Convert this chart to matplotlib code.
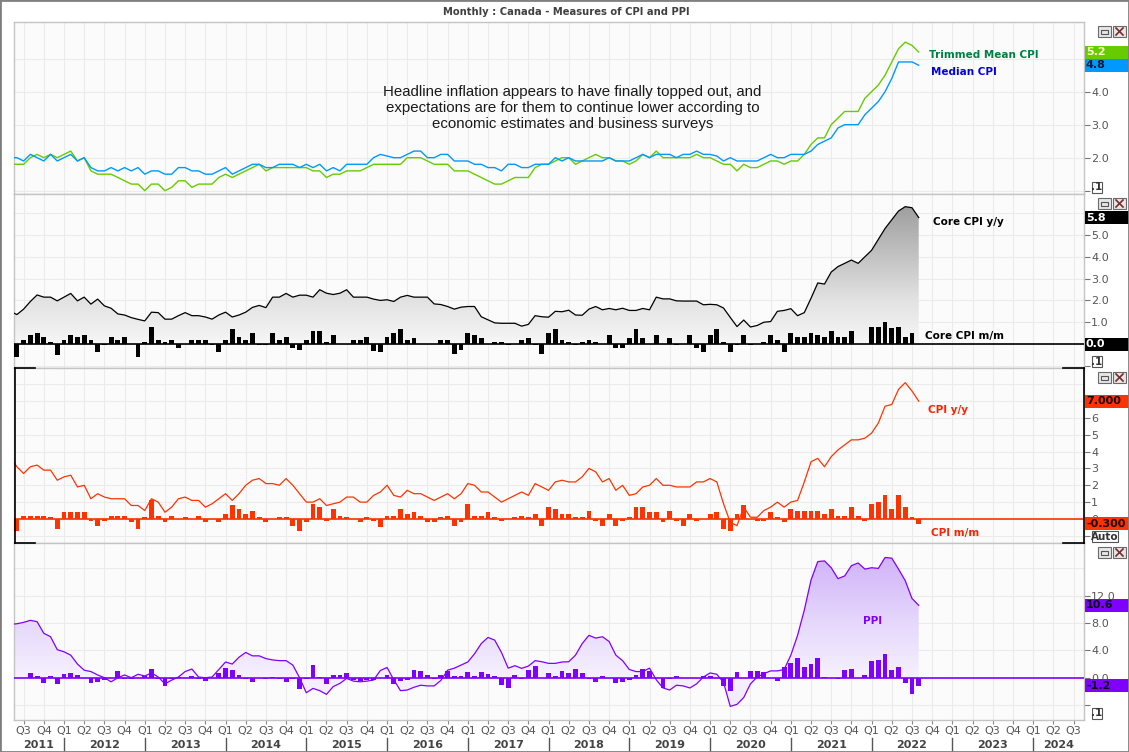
"""Canada - measures of CPI and PPI, four stacked panels"""
import numpy as np
import matplotlib
matplotlib.use("Agg")
import matplotlib.pyplot as plt
import matplotlib.transforms as mtransforms
from matplotlib.colors import LinearSegmentedColormap
from matplotlib.patches import Rectangle
from matplotlib.lines import Line2D

# month index: 0 = Jan 2012; data runs May 2011 .. Aug 2022
months = np.arange(-8, 128)

trimmed_mean = [
    1.8, 1.8, 1.8, 2.0, 2.1, 2.0, 2.1, 2.0,
    2.1, 2.2, 1.9, 2.0, 1.6, 1.5, 1.5, 1.5, 1.4, 1.3, 1.2, 1.2,
    1.0, 1.2, 1.2, 1.0, 1.1, 1.3, 1.3, 1.1, 1.2, 1.2, 1.2, 1.4,
    1.5, 1.4, 1.5, 1.6, 1.7, 1.8, 1.6, 1.7, 1.7, 1.7, 1.7, 1.7,
    1.7, 1.6, 1.6, 1.4, 1.5, 1.5, 1.6, 1.6, 1.6, 1.7, 1.8, 1.8,
    1.8, 1.8, 1.8, 2.0, 2.0, 2.0, 1.9, 1.8, 1.8, 1.8, 1.6, 1.6,
    1.6, 1.5, 1.4, 1.3, 1.2, 1.2, 1.3, 1.4, 1.4, 1.4, 1.7, 1.8,
    1.8, 1.9, 2.0, 2.0, 1.8, 1.9, 2.0, 2.1, 2.0, 2.0, 1.9, 1.9,
    1.8, 1.9, 2.1, 2.0, 2.2, 2.0, 2.0, 2.0, 2.0, 2.0, 2.1, 2.0,
    2.0, 1.9, 1.8, 1.8, 1.6, 1.8, 1.7, 1.7, 1.8, 1.9, 1.9, 1.8,
    1.9, 1.9, 2.1, 2.4, 2.6, 2.6, 3.0, 3.2, 3.4, 3.4, 3.4, 3.8,
    4.0, 4.2, 4.5, 4.9, 5.3, 5.5, 5.4, 5.2,
]
median_cpi = [
    2.0, 2.0, 1.9, 2.1, 2.0, 1.9, 2.1, 1.9,
    2.0, 2.1, 1.9, 2.0, 1.7, 1.6, 1.6, 1.7, 1.6, 1.7, 1.6, 1.7,
    1.5, 1.6, 1.6, 1.5, 1.5, 1.7, 1.7, 1.6, 1.6, 1.5, 1.5, 1.6,
    1.7, 1.5, 1.6, 1.7, 1.8, 1.8, 1.7, 1.7, 1.8, 1.8, 1.8, 1.7,
    1.8, 1.7, 1.8, 1.6, 1.7, 1.6, 1.8, 1.8, 1.8, 1.8, 2.0, 2.1,
    2.05, 2.0, 2.0, 2.1, 2.2, 2.2, 2.0, 2.0, 2.1, 2.1, 1.9, 1.9,
    1.9, 1.8, 1.8, 1.7, 1.7, 1.6, 1.8, 1.8, 1.7, 1.7, 1.8, 1.8,
    1.8, 2.0, 1.9, 2.0, 1.9, 1.9, 1.9, 1.9, 1.9, 2.0, 1.9, 1.9,
    1.9, 2.0, 2.1, 2.0, 2.1, 2.1, 2.1, 2.0, 2.1, 2.1, 2.2, 2.1,
    2.1, 2.05, 1.9, 2.0, 1.9, 1.9, 1.9, 1.9, 2.0, 2.1, 2.0, 2.0,
    2.1, 2.1, 2.1, 2.2, 2.4, 2.5, 2.6, 2.9, 3.0, 3.0, 3.0, 3.3,
    3.5, 3.7, 4.0, 4.4, 4.9, 4.9, 4.9, 4.8,
]
core_yy = [
    1.5, 1.35, 1.6, 1.95, 2.25, 2.15, 2.15, 1.98,
    2.15, 2.32, 1.98, 2.15, 1.83, 2.06, 1.75, 1.64, 1.38, 1.33, 1.21, 1.13,
    1.06, 1.46, 1.44, 1.14, 1.14, 1.30, 1.44, 1.30, 1.30, 1.24, 1.14, 1.33,
    1.46, 1.24, 1.33, 1.46, 1.68, 1.77, 1.67, 2.15, 2.15, 2.32, 2.15, 2.24,
    2.24, 2.15, 2.49, 2.33, 2.27, 2.33, 2.49, 2.15, 2.15, 2.15, 2.06, 2.0,
    2.03, 1.95, 2.15, 2.23, 2.15, 2.15, 2.15, 1.84, 1.81, 1.72, 1.6, 1.69,
    1.72, 1.72, 1.25, 1.11, 0.97, 0.95, 0.95, 0.95, 0.82, 0.9, 1.3, 1.25,
    1.23, 1.5, 1.48, 1.55, 1.33, 1.32, 1.6, 1.72, 1.57, 1.63, 1.57, 1.64,
    1.54, 1.54, 1.63, 1.57, 2.15, 2.07, 2.07, 1.98, 1.97, 1.97, 1.97, 1.8,
    1.82, 1.8, 1.65, 1.22, 0.8, 1.1, 0.78, 0.85, 1.0, 1.03, 1.5, 1.54,
    1.62, 1.3, 1.44, 2.1, 2.8, 2.75, 3.3, 3.55, 3.7, 3.85, 3.7, 4.0,
    4.3, 4.8, 5.3, 5.7, 6.1, 6.3, 6.25, 5.8,
]
core_mm = [
    0.3, -0.61, 0.2, 0.43, 0.52, 0.31, 0.11, -0.49,
    0.2, 0.43, 0.31, 0.43, 0.2, -0.38, -0.06, 0.31, 0.2, 0.31, 0.0, -0.61,
    0.11, 0.8, 0.2, 0.11, 0.2, -0.2, 0.0, 0.2, 0.2, 0.2, -0.06, -0.38,
    0.2, 0.7, 0.31, 0.2, 0.52, -0.06, -0.06, 0.52, 0.2, 0.31, -0.2, -0.28,
    0.2, 0.61, 0.61, 0.11, 0.43, 0.0, 0.0, 0.2, 0.2, 0.31, -0.31, -0.38,
    0.3, 0.5, 0.7, 0.2, 0.29, 0.0, 0.0, 0.0, 0.2, 0.2, -0.46, -0.28,
    0.5, 0.41, 0.29, 0.0, 0.1, 0.1, -0.05, 0.0, 0.2, 0.29, -0.05, -0.46,
    0.5, 0.7, 0.2, 0.1, -0.05, 0.1, 0.2, 0.1, 0.0, 0.41, -0.2, -0.2,
    0.29, 0.7, 0.29, 0.0, 0.41, 0.0, 0.29, -0.05, 0.0, 0.41, -0.2, -0.38,
    0.42, 0.69, 0.11, -0.38, -0.05, 0.43, -0.05, 0.0, 0.11, 0.43, 0.2, -0.38,
    0.51, 0.31, 0.31, 0.51, 0.43, 0.31, 0.61, 0.31, 0.31, 0.61, 0.0, 0.0,
    0.8, 0.8, 1.03, 0.72, 0.8, 0.31, 0.51, 0.0,
]
cpi_yy = [
    3.7, 3.1, 2.7, 3.1, 3.2, 2.9, 2.9, 2.3,
    2.5, 2.6, 1.9, 2.0, 1.2, 1.5, 1.3, 1.2, 1.2, 1.2, 0.8, 0.8,
    0.5, 1.2, 1.0, 0.4, 0.7, 1.2, 1.3, 1.1, 1.1, 0.7, 0.9, 1.2,
    1.5, 1.1, 1.5, 2.0, 2.3, 2.4, 2.1, 2.1, 2.0, 2.4, 2.0, 1.5,
    1.0, 1.0, 1.2, 0.8, 0.9, 1.0, 1.3, 1.3, 1.0, 1.0, 1.4, 1.6,
    2.0, 1.4, 1.3, 1.7, 1.5, 1.5, 1.3, 1.1, 1.3, 1.5, 1.2, 1.5,
    2.1, 2.0, 1.6, 1.6, 1.3, 1.0, 1.2, 1.4, 1.6, 1.4, 2.1, 1.9,
    1.7, 2.2, 2.3, 2.2, 2.2, 2.5, 3.0, 2.8, 2.2, 2.4, 1.7, 2.0,
    1.4, 1.5, 1.9, 2.0, 2.4, 2.0, 2.0, 1.9, 1.9, 1.9, 2.2, 2.2,
    2.4, 2.2, 0.9, -0.2, -0.4, 0.7, 0.1, 0.1, 0.5, 0.7, 1.0, 0.7,
    1.0, 1.1, 2.2, 3.4, 3.6, 3.1, 3.7, 4.1, 4.4, 4.7, 4.7, 4.8,
    5.1, 5.7, 6.7, 6.8, 7.7, 8.1, 7.6, 7.0,
]
cpi_mm = [
    0.2, -0.7, 0.2, 0.2, 0.2, 0.2, 0.1, -0.6,
    0.4, 0.4, 0.4, 0.4, -0.1, -0.4, -0.1, 0.2, 0.2, 0.2, -0.2, -0.6,
    0.1, 1.1, 0.2, -0.2, 0.2, 0.0, 0.1, 0.0, 0.2, -0.2, 0.0, -0.2,
    0.3, 0.8, 0.6, 0.3, 0.5, 0.1, -0.2, 0.0, 0.1, 0.1, -0.4, -0.7,
    -0.2, 0.9, 0.7, -0.1, 0.6, 0.2, 0.1, 0.0, -0.2, 0.1, -0.1, -0.5,
    0.2, 0.2, 0.6, 0.3, 0.4, 0.2, -0.2, -0.2, 0.1, 0.2, -0.4, -0.2,
    0.9, 0.2, 0.2, 0.4, 0.1, -0.1, 0.0, 0.1, 0.2, 0.1, 0.3, -0.4,
    0.7, 0.6, 0.3, 0.3, 0.1, 0.1, 0.5, -0.1, -0.4, 0.3, -0.4, -0.1,
    0.1, 0.7, 0.7, 0.4, 0.4, -0.2, 0.5, -0.1, -0.4, 0.3, -0.1, 0.0,
    0.3, 0.4, -0.6, -0.7, 0.3, 0.8, 0.0, -0.1, -0.1, 0.4, 0.1, -0.2,
    0.6, 0.5, 0.5, 0.5, 0.5, 0.3, 0.6, 0.2, 0.2, 0.7, 0.2, -0.1,
    0.9, 1.0, 1.4, 0.6, 1.4, 0.7, 0.1, -0.3,
]
ppi_yy = [
    7.8, 7.9, 8.1, 8.4, 8.2, 6.5, 6.0, 4.1,
    3.8, 3.3, 2.0, 1.1, 0.9, 0.4, 0.0, -0.6, 0.0, 0.4, 0.0, 0.5,
    0.25, 0.7, 0.1, -0.9, -0.35, 0.1, 0.9, 1.27, 0.1, 0.0, 0.1, 1.2,
    2.3, 2.0, 3.0, 3.7, 3.2, 3.2, 2.8, 2.6, 2.5, 2.5, 1.85, 0.0,
    -2.2, -1.56, -1.9, -2.44, -1.3, -0.83, -0.1, -0.5, -0.6, -0.5, -0.34, 1.05,
    1.5, -0.3, -1.9, -1.8, -1.4, -1.1, -1.2, -1.2, -0.4, 1.1, 1.4, 1.85,
    2.3, 3.5, 5.0, 5.9, 5.5, 3.7, 1.4, 1.76, 1.37, 1.7, 2.5, 2.34,
    2.1, 2.1, 2.3, 2.34, 3.3, 5.0, 6.2, 5.8, 6.0, 5.3, 3.3, 2.5,
    1.2, 0.9, 0.9, 1.4, -0.3, -1.5, -1.8, -1.1, -1.2, -1.5, -0.9, 0.1,
    0.7, 0.5, -0.7, -4.2, -3.9, -2.9, -0.9, 0.1, 0.6, 1.0, 1.0, 1.2,
    3.3, 6.2, 9.9, 14.3, 17.0, 17.1, 16.1, 14.5, 14.9, 16.4, 16.8, 15.9,
    16.1, 16.0, 17.6, 17.5, 15.9, 14.2, 11.6, 10.6,
]
ppi_mm = [
    0.0, 0.0, 0.0, 0.68, 0.24, -0.73, 0.24, -0.98,
    0.49, 0.68, 0.39, 0.0, -0.83, -0.59, -0.39, 0.0, 0.98, -0.24, -0.24, 0.0,
    0.29, 1.27, -0.24, -1.17, -0.15, 0.15, 0.0, 0.24, -0.24, -0.44, 0.0, 0.68,
    1.41, 1.12, 0.39, -0.2, -0.59, 0.0, -0.2, 0.15, -0.2, -0.59, -0.2, -1.6,
    -0.24, 1.85, 0.15, -0.93, 0.39, 0.39, 0.68, -0.34, -0.44, -0.34, -0.34, -0.1,
    0.34, -0.98, -0.49, -0.34, 1.07, 0.93, 0.34, -0.24, 0.34, 0.93, 0.24, 0.24,
    0.78, 0.24, 0.78, 0.49, 0.24, -1.07, -1.56, 0.34, -0.24, 1.07, 1.7, 0.0,
    0.63, 0.24, 0.93, 0.63, 1.22, 0.63, -0.24, -0.59, 0.24, 0.0, -0.83, -0.63,
    -0.34, 0.34, 1.32, 0.93, 0.0, -1.56, -0.24, 0.24, 0.0, 0.0, 0.0, 0.2,
    0.2, 0.0, -1.22, -1.9, 0.78, 0.0, 0.98, 0.98, 0.78, 0.0, -0.44, 1.6,
    2.2, 2.83, 1.6, 2.0, 2.88, 0.15, 0.0, -0.24, 1.12, 1.27, 0.0, 0.39,
    2.44, 2.59, 3.41, 1.12, 1.56, -0.83, -2.44, -1.2,
]

quarters = np.arange(-6, 151, 3)
years = list(range(2011, 2025))
note = ("Headline inflation appears to have finally topped out, and\n"
        "expectations are for them to continue lower according to\n"
        "economic estimates and business surveys")

W, H = 1129, 752
PL, PR = 14, 1084
XMIN, XMAX = -7.43, 151.56

GREEN, BLUE = "#66cc00", "#0099ff"
RED, PURPLE = "#ff3300", "#8000ff"


def fx(px):
    return px / W


def fy(py):
    return 1 - py / H


fig = plt.figure(figsize=(W / 100, H / 100), dpi=100)
fig.patch.set_facecolor("white")


def add_panel(top, bottom, ylim, ticks, shown, fmt, extra_grid=()):
    ax = fig.add_axes([fx(PL), fy(bottom), (PR - PL) / W, (bottom - top) / H])
    ax.set_facecolor("#fbfbfb")
    for s in ax.spines.values():
        s.set_color("#c4c4c4")
        s.set_linewidth(1)
    ax.set_xticks(quarters)
    ax.tick_params(axis="x", length=0, labelbottom=False)
    ax.yaxis.tick_right()
    ax.set_yticks(ticks)
    ax.set_yticklabels([fmt % t if t in shown else "" for t in ticks])
    ax.tick_params(axis="y", direction="out", length=4, width=0.8, color="#777",
                   labelsize=8, labelcolor="#555", pad=1)
    ax.grid(True, color="#ebebeb", lw=0.8)
    for g in extra_grid:
        ax.axhline(g, color="#ebebeb", lw=0.8, zorder=0.5)
    ax.set_axisbelow(True)
    ax.set_xlim(XMIN, XMAX)
    ax.set_ylim(*ylim)
    return ax


def gradient_fill(ax, x, y, stops):
    lo, hi = stops[0][0], stops[-1][0]
    cmap = LinearSegmentedColormap.from_list(
        "g", [((v - lo) / (hi - lo), c) for v, c in stops])
    grad = np.linspace(0, 1, 256).reshape(-1, 1)
    im = ax.imshow(grad, cmap=cmap, aspect="auto", origin="lower",
                   extent=[x.min(), x.max(), lo, hi], zorder=1,
                   interpolation="bilinear")
    poly = ax.fill_between(x, y, 0, facecolor="none", edgecolor="none")
    im.set_clip_path(poly.get_paths()[0], transform=ax.transData)


def value_box(ax, val, text, fc, tc):
    ypix = ax.transData.transform((0, val))[1]
    fig.add_artist(Rectangle((fx(PR + 1), (ypix - 6.5) / H), fx(W - PR - 1), 13 / H,
                             transform=fig.transFigure, fc=fc, ec="none", zorder=10))
    fig.text(fx(PR + 2), ypix / H, text, color=tc, fontsize=8, fontweight="bold",
             va="center", ha="left", zorder=11)


def window_icons(top):
    for x0, kind in [(1098, "min"), (1113, "close")]:
        fig.add_artist(Rectangle((fx(x0), fy(top + 15)), 13 / W, 11 / H,
                                 transform=fig.transFigure, fc="#e6e6e6",
                                 ec="#6a6a6a", lw=0.8, zorder=10))
        if kind == "min":
            fig.add_artist(Rectangle((fx(x0 + 3), fy(top + 12)), 7 / W, 4 / H,
                                     transform=fig.transFigure, fc="none",
                                     ec="#555", lw=0.8, zorder=11))
        else:
            for a, b in [((x0 + 3, top + 6), (x0 + 10, top + 13)),
                         ((x0 + 3, top + 13), (x0 + 10, top + 6))]:
                fig.add_artist(Line2D([fx(a[0]), fx(b[0])], [fy(a[1]), fy(b[1])],
                                      transform=fig.transFigure, color="#7a2a2a",
                                      lw=1.2, zorder=11))


def gadget(x0, y0, w, h, text):
    fig.add_artist(Rectangle((fx(x0), fy(y0 + h)), w / W, h / H, transform=fig.transFigure,
                             fc="white", ec="#555", lw=0.8, zorder=10))
    fig.text(fx(x0 + w / 2), fy(y0 + h / 2), text, fontsize=7.5, fontweight="bold",
             color="#333", ha="center", va="center", zorder=11)


m = months

# panel 1: trimmed mean & median
ax1 = add_panel(22, 194, (0.9, 6.11), [1, 2, 3, 4, 5], [2, 3, 4], "%.1f")
ax1.plot(m, trimmed_mean, color=GREEN, lw=1, zorder=4)
ax1.plot(m, median_cpi, color=BLUE, lw=1, zorder=5)
ax1.text(128.5, 5.1, "Trimmed Mean CPI", color="#008040", fontsize=7.5,
         fontweight="bold", va="center")
ax1.text(128.8, 4.6, "Median CPI", color="#0000ee", fontsize=7.5,
         fontweight="bold", va="center")
ax1.text(0.522, 0.5, note, transform=ax1.transAxes, ha="center", va="center",
         fontsize=10.8, family="Liberation Sans", color="#1a1a1a", linespacing=1.17)

# panel 2: core CPI
ax2 = add_panel(194, 368, (-1.1, 6.88), [-1, 0, 1, 2, 3, 4, 5, 6], [1, 2, 3, 4, 5], "%.1f")
gradient_fill(ax2, m, np.array(core_yy),
              [(0, "#f6f6f6"), (2, "#e2e2e2"), (6.5, "#9c9c9c")])
ax2.bar(m, core_mm, width=0.72, color="black", lw=0, zorder=3)
ax2.axhline(0, color="black", lw=1.2, zorder=4)
ax2.plot(m, core_yy, color="black", lw=0.9, zorder=5)
ax2.text(129.1, 5.6, "Core CPI y/y", fontsize=7.5, fontweight="bold", va="center")
ax2.text(127.9, 0.37, "Core CPI m/m", fontsize=7.5, fontweight="bold", va="center")

# panel 3: CPI
ax3 = add_panel(368, 543, (-1.43, 8.97), list(range(-1, 8)), [0, 1, 2, 3, 4, 5, 6], "%d",
                extra_grid=(8,))
ax3.bar(m, cpi_mm, width=0.72, color=RED, lw=0, zorder=3)
ax3.axhline(0, color=RED, lw=1.2, zorder=4)
ax3.plot(m, cpi_yy, color=RED, lw=0.9, zorder=5)
ax3.text(128.4, 6.48, "CPI y/y", color="#ff2200", fontsize=7.5, fontweight="bold", va="center")
ax3.text(128.8, -0.83, "CPI m/m", color="#ff2200", fontsize=7.5, fontweight="bold", va="center")

# panel 4: PPI
ax4 = add_panel(543, 720, (-6.19, 19.72), [-4, 0, 4, 8, 12], [0, 4, 8, 12], "%.1f",
                extra_grid=(16,))
gradient_fill(ax4, m, np.array(ppi_yy),
              [(-6, "#efe6fd"), (0, "#f6f1fe"), (8, "#e6d8fc"), (19, "#cdaef9")])
ax4.bar(m, ppi_mm, width=0.72, color=PURPLE, lw=0, zorder=3)
ax4.axhline(0, color=PURPLE, lw=1.2, zorder=4)
ax4.plot(m, ppi_yy, color=PURPLE, lw=0.9, zorder=5)
ax4.text(120.2, 8.3, "PPI", color=PURPLE, fontsize=7.5, fontweight="bold",
         va="center", ha="center")

for ax in (ax1, ax2, ax3, ax4):
    ax.set_xlim(XMIN, XMAX)
ax1.set_ylim(0.9, 6.11)
ax2.set_ylim(-1.1, 6.88)
ax3.set_ylim(-1.43, 8.97)
ax4.set_ylim(-6.19, 19.72)

# quarter / year axis under the bottom panel
ax4.set_xticklabels(["Q%d" % ((q % 12) // 3 + 1) for q in quarters])
ax4.tick_params(axis="x", length=3, color="#888", labelbottom=True,
                labelsize=8, labelcolor="#555", pad=1)
blend = mtransforms.blended_transform_factory(ax4.transData, ax4.transAxes)
for yr in years:
    start = max((yr - 2012) * 12, XMIN)
    end = min((yr - 2011) * 12, XMAX)
    ax4.text((start + end) / 2, -25 / 177, str(yr), transform=blend, ha="center",
             va="center", fontsize=8, fontweight="bold", color="#444")
    if yr > 2011:
        ax4.add_line(Line2D([(yr - 2012) * 12] * 2, [-18 / 177, -33 / 177],
                            transform=blend, clip_on=False, color="#555", lw=1))

# latest-value boxes on the right axis
value_box(ax1, trimmed_mean[-1], "%.1f" % trimmed_mean[-1], GREEN, "#ffffcc")
value_box(ax1, median_cpi[-1], "%.1f" % median_cpi[-1], BLUE, "#001a33")
value_box(ax2, core_yy[-1], "%.1f" % core_yy[-1], "black", "white")
value_box(ax2, core_mm[-1], "%.1f" % core_mm[-1], "black", "white")
value_box(ax3, cpi_yy[-1], "%.3f" % cpi_yy[-1], RED, "#1a0000")
value_box(ax3, cpi_mm[-1], "%.3f" % cpi_mm[-1], RED, "#1a0000")
value_box(ax4, ppi_yy[-1], "%.1f" % ppi_yy[-1], PURPLE, "#0a0014")
value_box(ax4, ppi_mm[-1], "%.1f" % ppi_mm[-1], PURPLE, "#0a0014")

for top in (22, 194, 368, 543):
    window_icons(top)
gadget(1092, 182, 10, 11, ".1")
gadget(1092, 356, 10, 11, ".1")
gadget(1092, 708, 10, 11, ".1")
gadget(1092, 531, 26, 11, "Auto")

# selection brackets around the CPI panel
for xs, ys in [([15, 15], [368, 543]), ([15, 35], [368, 368]), ([15, 35], [543, 543]),
               ([1084, 1084], [368, 543]), ([1063, 1084], [368, 368]),
               ([1063, 1084], [543, 543])]:
    fig.add_artist(Line2D([fx(v) for v in xs], [fy(v) for v in ys],
                          transform=fig.transFigure, color="black", lw=1.2, zorder=9))

fig.text(fx(566), fy(12), "Monthly : Canada - Measures of CPI and PPI", ha="center",
         va="center", fontsize=7.2, fontweight="bold", color="#404040")
fig.add_artist(Rectangle((0, 0), 1, 1, transform=fig.transFigure, fill=False,
                         ec="#808080", lw=2, zorder=20))

fig.savefig("out.png", dpi=100)
